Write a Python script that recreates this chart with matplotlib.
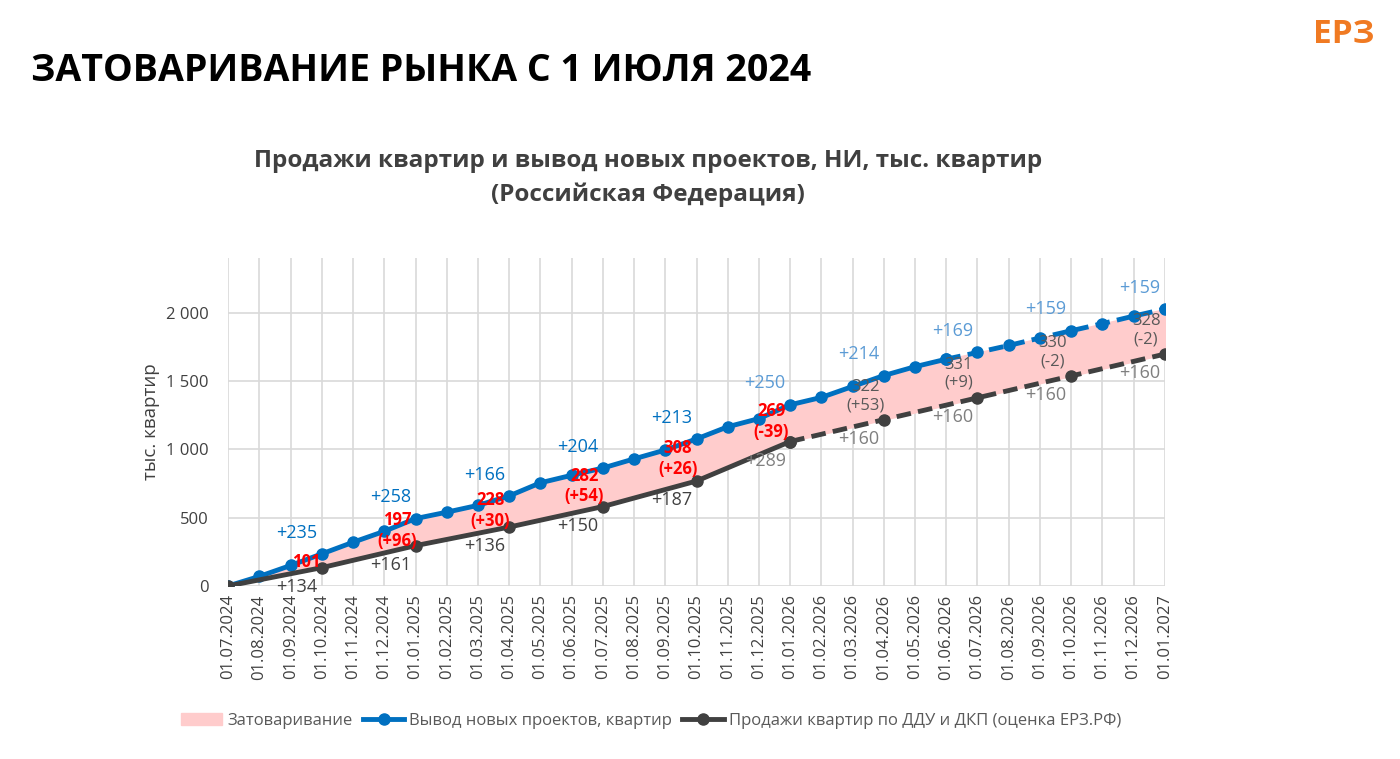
import matplotlib
matplotlib.use("Agg")
import matplotlib.pyplot as plt
import numpy as np
from matplotlib.patches import Patch
from matplotlib.lines import Line2D

months = ["01.07.2024","01.08.2024","01.09.2024","01.10.2024","01.11.2024","01.12.2024",
          "01.01.2025","01.02.2025","01.03.2025","01.04.2025","01.05.2025","01.06.2025",
          "01.07.2025","01.08.2025","01.09.2025","01.10.2025","01.11.2025","01.12.2025",
          "01.01.2026","01.02.2026","01.03.2026","01.04.2026","01.05.2026","01.06.2026",
          "01.07.2026","01.08.2026","01.09.2026","01.10.2026","01.11.2026","01.12.2026","01.01.2027"]
supply = [0,70,150,235,320,400,493,540,590,659,755,810,863,930,995,1076,1165,1225,
          1326,1380,1460,1540,1605,1660,1709,1760,1815,1868,1920,1975,2027]
q_idx = [0,3,6,9,12,15,18,21,24,27,30]
sales = [0,134,295,431,581,768,1057,1217,1377,1537,1697]
supply_inc = ["+235","+258","+166","+204","+213","+250","+214","+169","+159","+159"]
sales_inc = ["+134","+161","+136","+150","+187","+289","+160","+160","+160","+160"]
stock = ["101","197\n(+96)","228\n(+30)","282\n(+54)","308\n(+26)","269\n(-39)",
         "322\n(+53)","331\n(+9)","330\n(-2)","328\n(-2)"]

plt.rcParams['font.family'] = ['Open Sans', 'DejaVu Sans']
BLUE = "#0070C0"; DARK = "#404040"
fig = plt.figure(figsize=(14, 7.59), dpi=100)
fig.patch.set_facecolor("white")
fig.text(0.022, 0.893, "ЗАТОВАРИВАНИЕ РЫНКА С 1 ИЮЛЯ 2024", fontsize=27, fontweight="bold", color="black")
fig.text(0.982, 0.955, "ЕРЗ", fontsize=24, fontweight="bold", color="#F07A22", ha="right", va="center")
fig.text(0.463, 0.765, "Продажи квартир и вывод новых проектов, НИ, тыс. квартир\n(Российская Федерация)",
         fontsize=17.5, fontweight="bold", color="#404040", ha="center", va="center", linespacing=1.5)

ax = fig.add_axes([0.163, 0.228, 0.669, 0.432])
x = np.arange(len(months))
xq = np.array(q_idx)
sales_m = np.interp(x, xq, sales)
ax.fill_between(x, sales_m, supply, color="#FFCCCC", zorder=1)
ax.plot(x[:24], supply[:24], color=BLUE, lw=3.5, marker="o", ms=8, zorder=3)
ax.plot(x[23:], supply[23:], color=BLUE, lw=3.5, ls=(0, (3, 1.5)), marker="o", ms=8, zorder=3)
ax.plot(xq[:7], sales[:7], color=DARK, lw=3.5, marker="o", ms=8, zorder=3)
ax.plot(xq[6:], sales[6:], color=DARK, lw=3.5, ls=(0, (3, 1.5)), marker="o", ms=8, zorder=3)

for i in range(10):
    xi = q_idx[i+1]
    ax.text(xi - 0.8, supply[xi] + 90, supply_inc[i], color="#5B9BD5" if i >= 5 else BLUE,
            fontsize=13, ha="center", va="bottom")
    ax.text(xi - 0.8, sales[i+1] - 75, sales_inc[i], color=DARK if i < 5 else "#7F7F7F",
            fontsize=13, ha="center", va="top")
    col = "red" if i < 6 else "#595959"
    fw = "bold" if i < 6 else "normal"
    if i == 0:
        ax.text(xi - 0.5, 175, stock[i], color=col, fontsize=12, fontweight=fw, ha="center", va="center")
    else:
        ym = (supply[xi] + sales[i+1]) / 2 + 10
        ax.text(xi - 0.6, ym, stock[i], color=col, fontsize=12, fontweight=fw,
                ha="center", va="center", linespacing=1.2)

ax.set_xlim(0, 30)
ax.set_ylim(0, 2400)
ax.set_yticks([0, 500, 1000, 1500, 2000])
ax.set_yticklabels(["0", "500", "1 000", "1 500", "2 000"])
ax.set_xticks(x)
ax.set_xticklabels(months, rotation=90)
ax.tick_params(axis="both", labelsize=12, colors="#404040", length=0)
ax.tick_params(axis="y", pad=14)
ax.tick_params(axis="x", pad=6)
ax.set_ylabel("тыс. квартир", fontsize=13.5, color="#404040")
ax.grid(True, color="#D9D9D9", lw=1.2)
ax.set_axisbelow(True)
for s in ax.spines.values():
    s.set_visible(False)

handles = [Patch(color="#FFCCCC"),
           Line2D([], [], color=BLUE, lw=3.5, marker="o", ms=8),
           Line2D([], [], color=DARK, lw=3.5, marker="o", ms=8)]
labels = ["Затоваривание", "Вывод новых проектов, квартир", "Продажи квартир по ДДУ и ДКП (оценка ЕРЗ.РФ)"]
fig.legend(handles, labels, loc="center", bbox_to_anchor=(0.465, 0.05), ncol=3, frameon=False,
           fontsize=12, labelcolor="#595959", handlelength=2.5, columnspacing=0.6, handletextpad=0.3)
fig.savefig("out.png", dpi=100)
